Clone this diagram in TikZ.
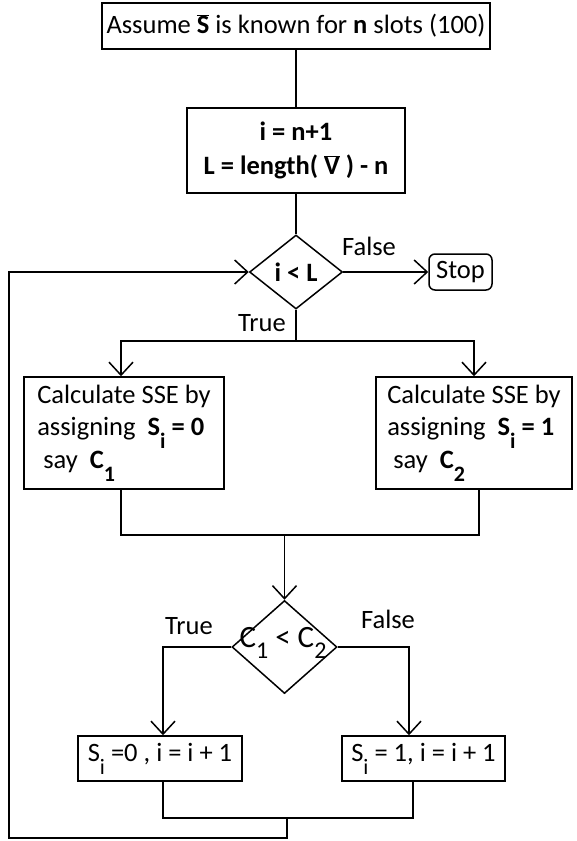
\documentclass[tikz,border=0pt]{standalone}
\usepackage{fontspec}
\setmainfont{Carlito}
\usetikzlibrary{shapes.geometric,arrows.meta}
\newcommand{\lowsub}[1]{\raisebox{-0.5em}{\fontsize{22}{22}\selectfont #1}}
\newcommand{\dsub}[1]{\raisebox{-0.38em}{\fontsize{24}{24}\selectfont #1}}
\newcommand{\mainfs}{\fontsize{26.5}{32.5}\selectfont}
\begin{document}
\begin{tikzpicture}[x=1pt,y=-1pt,
  every node/.style={font=\mainfs},
  box/.style={draw,line width=1.5pt,inner sep=0pt,align=center},
  dia/.style={draw,diamond,line width=1.5pt,inner sep=0pt},
  line/.style={line width=1.5pt},
  arr/.style={line width=1.5pt,-{Straight Barb[length=13pt,width=24pt]}},
  lbl/.style={inner sep=0pt}]
\useasboundingbox (0,0) rectangle (576,841);

\node[box,minimum width=388pt,minimum height=46pt] (top) at (296,26)
  {Assume $\overline{\mbox{\textbf{S}}}$ is known for \textbf{n} slots (100)};
\node[box,minimum width=218pt,minimum height=85pt,font=\mainfs\bfseries] (init) at (296,150.5)
  {i = n+1\\[1pt] L = length( $\overline{\mbox{\textbf{V}}}$ ) - n};
\node[dia,minimum width=93pt,minimum height=74pt,font=\mainfs\bfseries] (d1) at (296,272) {i < L};
\node[box,rounded corners=6pt,minimum width=63pt,minimum height=36pt] (stop) at (460.5,272) {Stop};

\node[box,minimum width=200pt,minimum height=112pt,align=left] (calc1) at (124,433)
  {Calculate SSE by\\ assigning \ \textbf{S\lowsub{\textbf{i}} = 0}\\ \ say \ \textbf{C\lowsub{\textbf{1}}}};
\node[box,minimum width=196pt,minimum height=112pt,align=left] (calc2) at (474,433)
  {Calculate SSE by\\ assigning \ \textbf{S\lowsub{\textbf{i}} = 1}\\ \ say \ \textbf{C\lowsub{\textbf{2}}}};

\node[dia,minimum width=105pt,minimum height=93pt] (d2) at (284.5,647) {};
\node[lbl,font=\fontsize{31}{31}\selectfont] (d2t) at (283,643) {C\dsub{1} < C\dsub{2}};

\node[box,minimum width=164pt,minimum height=45pt] (upd1) at (160,758.5)
  {S\lowsub{i} =0 , i = i + 1};
\node[box,minimum width=163pt,minimum height=45pt] (upd2) at (423.5,758.5)
  {S\lowsub{i} = 1, i = i + 1};

\node[lbl] (f1) at (369,246) {False};
\node[lbl] (t1) at (262,323) {True};
\node[lbl] (t2) at (189,626) {True};
\node[lbl] (f2) at (388,619) {False};

\coordinate (split1) at (296,341);
\coordinate (join1) at (284.5,535);
\coordinate (r2) at (409,647);
\coordinate (b4) at (413,781);
\coordinate (join2) at (287,818);
\coordinate (lowr) at (287,838);
\coordinate (lowl) at (9,838);

\draw[line] (top.south) -- (init.north);
\draw[line] (init.south) -- (d1.north);
\draw[arr] (d1.east) -- (stop.west);
\draw[line] (d1.south) -- (split1);
\draw[arr] (split1) -| ([xshift=-3pt]calc1.north);
\draw[arr] (split1) -| (calc2.north);
\draw[line] ([xshift=-3pt]calc1.south) |- (join1) -| ([xshift=5pt]calc2.south);
\draw[arr] (join1) -- (d2.north);
\draw[arr] (d2.west) -| ([xshift=3pt]upd1.north);
\draw[arr] (d2.east) -- (r2) -- (r2 |- upd2.north);
\draw[line] ([xshift=3pt]upd1.south) |- (join2) -| (b4);
\draw[arr] (join2) -- (lowr) -- (lowl) |- (d1.west);
\end{tikzpicture}
\end{document}
